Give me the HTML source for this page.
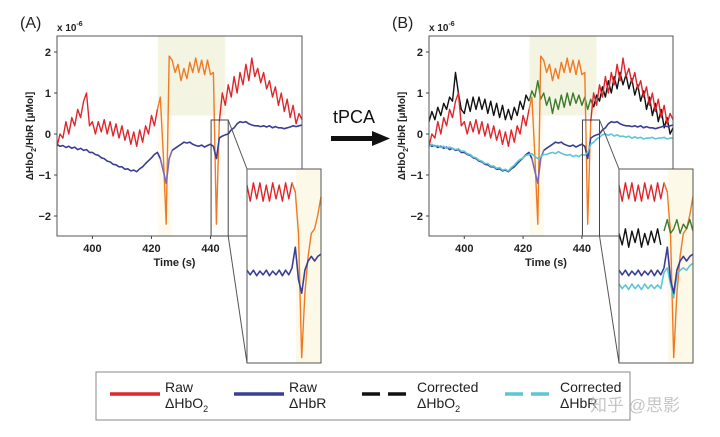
<!DOCTYPE html>
<html><head><meta charset="utf-8">
<style>
html,body{margin:0;padding:0;background:#fff;}
svg{display:block;font-family:"Liberation Sans",Arial,sans-serif;}
.tk{font-size:11px;font-weight:bold;fill:#222;}
</style></head>
<body>
<svg id="fig" width="720" height="437" viewBox="0 0 720 437"></svg>
<script>
const times = [];
for (let t = 388; t <= 471; t++) times.push(t);
const rawHbO2 = [-0.3,0.0,-0.1,0.3,0.0,0.4,0.2,0.6,0.4,0.8,1.0,0.2,0.3,0.0,0.3,0.05,0.35,0.0,0.3,-0.05,0.25,-0.1,0.2,-0.15,0.1,-0.25,0.05,-0.3,0.1,-0.2,0.2,0.0,0.45,0.2,0.6,0.9,-0.5,-2.2,1.9,1.8,1.5,1.7,1.3,1.6,1.35,1.75,1.5,1.85,1.5,1.8,1.45,1.8,1.45,1.5,-2.2,0.3,1.0,0.7,1.2,0.9,1.4,1.0,1.5,1.2,1.7,1.3,1.85,1.4,1.6,1.25,1.5,1.1,1.3,0.9,1.15,0.7,1.0,0.55,0.85,0.4,0.7,0.25,0.5,0.35];
const rawHbR = [-0.25,-0.3,-0.28,-0.33,-0.3,-0.35,-0.32,-0.38,-0.35,-0.4,-0.38,-0.45,-0.45,-0.5,-0.52,-0.58,-0.6,-0.66,-0.68,-0.74,-0.75,-0.8,-0.8,-0.86,-0.85,-0.9,-0.88,-0.92,-0.85,-0.8,-0.72,-0.65,-0.58,-0.5,-0.45,-0.6,-0.9,-1.2,-0.6,-0.4,-0.35,-0.3,-0.25,-0.2,-0.22,-0.2,-0.25,-0.28,-0.3,-0.27,-0.32,-0.28,-0.25,-0.3,-0.6,-0.1,-0.05,-0.02,0.0,0.1,0.15,0.25,0.3,0.28,0.3,0.25,0.22,0.2,0.2,0.18,0.2,0.17,0.2,0.15,0.18,0.15,0.15,0.13,0.15,0.17,0.2,0.18,0.2,0.22];
const corrHbO2 = [0.3,0.55,0.35,0.65,0.45,0.75,0.6,0.9,0.8,1.5,1.0,0.6,0.5,0.85,0.55,0.9,0.6,0.9,0.6,0.85,0.5,0.8,0.45,0.75,0.4,0.7,0.35,0.6,0.35,0.65,0.45,0.8,0.6,0.95,0.8,1.05,0.9,1.3,0.85,1.0,0.7,0.9,0.5,0.85,0.6,0.95,0.65,1.0,0.7,1.0,0.75,0.95,0.7,0.9,0.6,0.85,0.65,0.95,0.8,1.15,0.9,1.3,1.0,1.4,1.1,1.5,1.2,1.45,1.1,1.35,0.95,1.2,0.8,1.05,0.6,0.9,0.45,0.75,0.3,0.6,0.15,0.4,0.0,0.15];
const corrHbR = [-0.3,-0.25,-0.3,-0.28,-0.33,-0.3,-0.35,-0.32,-0.35,-0.38,-0.36,-0.42,-0.42,-0.48,-0.5,-0.56,-0.58,-0.64,-0.66,-0.72,-0.72,-0.78,-0.78,-0.84,-0.82,-0.88,-0.86,-0.9,-0.82,-0.76,-0.68,-0.62,-0.58,-0.52,-0.5,-0.48,-0.55,-0.6,-0.55,-0.5,-0.5,-0.47,-0.45,-0.48,-0.43,-0.47,-0.5,-0.52,-0.5,-0.55,-0.52,-0.55,-0.5,-0.52,-0.45,-0.25,-0.2,-0.12,-0.08,-0.02,0.0,-0.03,0.0,-0.05,-0.02,-0.06,-0.05,-0.08,-0.05,-0.1,-0.07,-0.1,-0.08,-0.12,-0.1,-0.1,-0.08,-0.12,-0.1,-0.1,-0.08,-0.12,-0.1,-0.1];
const insetTimes = [];
for (let i = 0; i < 24; i++) insetTimes.push(440 + i * 0.2);
const insetHbO2 = [1.55,1.2,1.6,1.25,1.6,1.2,1.55,1.2,1.6,1.25,1.55,1.2,1.6,1.25,1.6,1.4,0.5,-2.2,-0.8,0.0,0.5,0.6,0.9,1.3];
const insetHbR = [-0.3,-0.4,-0.3,-0.42,-0.32,-0.4,-0.3,-0.42,-0.32,-0.4,-0.3,-0.42,-0.3,-0.4,-0.25,0.2,-0.5,-0.8,-0.3,-0.1,0.0,-0.1,0.0,0.05];
const insetCorrHbO2 = [0.5,0.25,0.6,0.2,0.55,0.3,0.6,0.2,0.5,0.25,0.55,0.3,0.6,0.25,0.55,0.8,0.5,0.6,0.8,0.5,0.7,0.6,0.8,0.55];
const insetCorrHbR = [-0.6,-0.7,-0.62,-0.72,-0.6,-0.7,-0.62,-0.72,-0.6,-0.7,-0.62,-0.7,-0.62,-0.7,-0.35,-0.25,-0.6,-0.9,-0.4,-0.3,-0.25,-0.3,-0.2,-0.15];
const yTicks = [2,1,0,-1,-2];
const xTicks = [400,420,440];

const NS = "http://www.w3.org/2000/svg";
const svg = document.getElementById("fig");
function mk(tag, attrs, parent) {
  const e = document.createElementNS(NS, tag);
  for (const k in attrs) e.setAttribute(k, attrs[k]);
  (parent || svg).appendChild(e);
  return e;
}
function txt(x, y, s, attrs, parent) {
  const e = mk("text", Object.assign({x: x, y: y}, attrs), parent);
  e.textContent = s;
  return e;
}

const RED = "#e0262b", BLUE = "#3a3f95", ORANGE = "#f07a23", BLACK = "#111", CYAN = "#5cc6d6", GREEN = "#3d7a2c", PURPLE = "#7b6ab4";

function seg(g, xs, vals, sx, sy, color, w, from, to) {
  let d = "";
  for (let i = 0; i < xs.length; i++) {
    if (xs[i] < from - 1e-9 || xs[i] > to + 1e-9) continue;
    d += (d ? "L" : "M") + sx(xs[i]).toFixed(1) + "," + sy(vals[i]).toFixed(1);
  }
  if (d) return mk("path", {d: d, fill: "none", stroke: color, "stroke-width": w, "stroke-linejoin": "round"}, g);
}

function panel(id, left, right, letter, corrected) {
  const top = 36, bottom = 236;
  const sx = t => left + (t - 388) * (right - left) / (471 - 388);
  const sy = v => 134 - v * 41;
  const g = mk("g", {});
  
  
  const hl = mk("rect", {x: sx(422.2), y: top, width: sx(445) - sx(422.2), height: sy(0.45) - top, fill: "#f4f4e2"}, g);
  
  
  mk("rect", {x: sx(422.2), y: sy(0.45), width: sx(427) - sx(422.2), height: bottom - sy(0.45), fill: "#fefaee"}, g);
  const lineG = mk("g", {}, g);
  
  
  if (corrected) {
    seg(lineG, times, corrHbO2, sx, sy, BLACK, 1.4, 388, 422);
    seg(lineG, times, corrHbO2, sx, sy, GREEN, 1.4, 422, 444);
    seg(lineG, times, corrHbO2, sx, sy, BLACK, 1.4, 444, 471);
  }
  seg(lineG, times, rawHbO2, sx, sy, RED, 1.4, 388, 422);
  seg(lineG, times, rawHbO2, sx, sy, ORANGE, 1.4, 422, 443);
  seg(lineG, times, rawHbO2, sx, sy, RED, 1.4, 443, 471);
  seg(lineG, times, rawHbR, sx, sy, BLUE, 1.6, 388, 423);
  seg(lineG, times, rawHbR, sx, sy, PURPLE, 1.6, 423, 427);
  seg(lineG, times, rawHbR, sx, sy, BLUE, 1.6, 427, 471);
  if (corrected) seg(lineG, times, corrHbR, sx, sy, CYAN, 1.6, 388, 471);
  const fr = mk("rect", {x: left, y: top, width: right - left, height: bottom - top, fill: "none", stroke: "#555", "stroke-width": 1}, g);
  
  
  for (const v of yTicks) {
    mk("line", {x1: left - 3, x2: left, y1: sy(v), y2: sy(v), stroke: "#444"}, g);
    const t = txt(left - 6, sy(v) + 4, v < 0 ? "\u2212" + Math.abs(v) : String(v), {"text-anchor": "end", class: "tk"}, g);
    
    
  }
  for (const v of xTicks) {
    mk("line", {x1: sx(v), x2: sx(v), y1: bottom, y2: bottom + 3, stroke: "#444"}, g);
    const t = txt(sx(v), bottom + 16, String(v), {"text-anchor": "middle", class: "tk"}, g);
    
    
  }
  const xt = txt((left + right) / 2 - 5, 266, "Time (s)", {"text-anchor": "middle", "font-size": "11", "font-weight": "bold", fill: "#222"}, g);
  
  
  const yt = mk("text", {transform: "translate(" + (left - 24) + ",136) rotate(-90)", "text-anchor": "middle", "font-size": "10", "font-weight": "bold", fill: "#222"}, g);
  yt.innerHTML = '\u0394HbO<tspan font-size="7" dy="3">2</tspan><tspan dy="-3">/HbR [\u03bcMol]</tspan>';
  
  
  const lt = txt(left - 37, 28, "(" + letter + ")", {"font-size": "16", fill: "#222"}, g);
  
  
  const sc = mk("text", {x: left, y: 31, "font-size": "10", fill: "#222", "font-weight": "bold"}, g);
  sc.innerHTML = 'x 10<tspan font-size="7" dy="-5">-6</tspan>';
  
  

  const zx1 = sx(440.2), zx2 = sx(446), zy1 = 120;
  const iw = 74;
  const IL = corrected ? right - 54 : right - 55;
  const IR = IL + iw, IT = 169, IB = 363;
  const zr = mk("rect", {x: zx1, y: zy1, width: zx2 - zx1, height: bottom - zy1, fill: "none", stroke: "#444", "stroke-width": 1}, g);
  
  
  mk("line", {x1: zx2, y1: zy1, x2: IL, y2: IT, stroke: "#555"}, g);
  mk("line", {x1: zx2, y1: bottom, x2: IL, y2: IB, stroke: "#555"}, g);
  const ig = mk("g", {}, g);
  
  
  const isx = t => IL + (t - 440) * iw / 4.6;
  const isy = v => IT + (1.9 - v) * 46;
  mk("rect", {x: IL, y: IT, width: iw, height: IB - IT, fill: "#fff"}, ig);
  mk("rect", {x: isx(443.05), y: IT, width: IR - isx(443.05), height: IB - IT, fill: "#fcf9e8"}, ig);
  seg(ig, insetTimes, insetHbO2, isx, isy, RED, 1.4, 440, 443.0);
  seg(ig, insetTimes, insetHbO2, isx, isy, ORANGE, 1.4, 442.8, 444.6);
  if (corrected) {
    seg(ig, insetTimes, insetCorrHbO2, isx, isy, BLACK, 1.4, 440, 442.6);
    seg(ig, insetTimes, insetCorrHbO2, isx, isy, GREEN, 1.4, 442.8, 444.6);
    seg(ig, insetTimes, insetCorrHbR, isx, isy, CYAN, 1.6, 440, 444.6);
  }
  seg(ig, insetTimes, insetHbR, isx, isy, BLUE, 1.6, 440, 444.6);
  mk("rect", {x: IL, y: IT, width: iw, height: IB - IT, fill: "none", stroke: "#555", "stroke-width": 1}, ig);
}
panel("a", 57, 302, "A", false);
panel("b", 429, 673, "B", true);

const tp = txt(333, 123, "tPCA", {"font-size": "18", fill: "#111"});


const ar = mk("path", {d: "M331,136 L372,136 L372,131 L390,138.5 L372,146 L372,141 L331,141 Z", fill: "#111"});



const lg = mk("g", {});


mk("rect", {x: 96, y: 372, width: 534, height: 48, fill: "#fff", stroke: "#888", "stroke-width": 1}, lg);
const entries = [
  {x: 110, c: RED, dash: null, a: "Raw", b: "\u0394HbO", sub: true},
  {x: 234, c: BLUE, dash: null, a: "Raw", b: "\u0394HbR", sub: false},
  {x: 362, c: BLACK, dash: "18 8", a: "Corrected", b: "\u0394HbO", sub: true},
  {x: 505, c: CYAN, dash: "18 8", a: "Corrected", b: "\u0394HbR", sub: false}
];
for (const e of entries) {
  const eg = mk("g", {}, lg);
  
  
  const ln = mk("line", {x1: e.x, x2: e.x + 50, y1: 394, y2: 394, stroke: e.c, "stroke-width": 3.5}, eg);
  if (e.dash) ln.setAttribute("stroke-dasharray", e.dash);
  txt(e.x + 55, 392, e.a, {"font-size": "14", fill: "#222"}, eg);
  const t2 = mk("text", {x: e.x + 55, y: 408, "font-size": "14", fill: "#222"}, eg);
  t2.innerHTML = e.b + (e.sub ? '<tspan font-size="9" dy="4">2</tspan>' : '');
}
const wm = txt(590, 411, "知乎 @思影", {"font-size": "17", fill: "#bbbbbb", "font-family": "'Liberation Sans','Noto Sans CJK SC',sans-serif", opacity: 0.85});


</script>
</body></html>
